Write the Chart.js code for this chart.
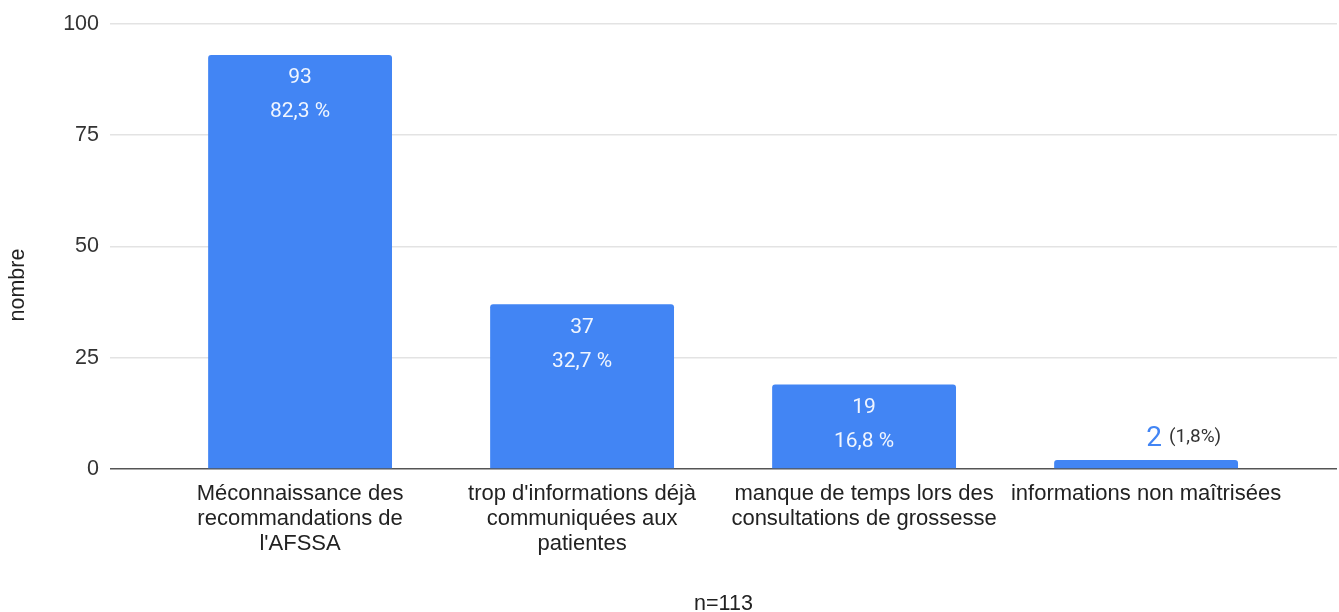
<!DOCTYPE html>
<html>
<head>
<meta charset="utf-8">
<script src="https://cdn.jsdelivr.net/npm/chart.js@4/dist/chart.umd.min.js"></script>
<style>
  html, body { margin: 0; padding: 0; background: #ffffff; }
  #wrap { width: 1339px; height: 612px; position: relative; }
</style>
</head>
<body>
<div id="wrap"><canvas id="c" width="1339" height="612"></canvas></div>
<script>
// ---- data ----
const categories = [
  ['Méconnaissance des', 'recommandations de', "l'AFSSA"],
  ["trop d'informations déjà", 'communiquées aux', 'patientes'],
  ['manque de temps lors des', 'consultations de grossesse'],
  ['informations non maîtrisées']
];
const counts = [93, 37, 19, 2];
const percents = [82.3, 32.7, 16.8, 1.8];
const yTicks = [0, 25, 50, 75, 100];
const yTitle = 'nombre';
const xTitle = 'n=113';

const ARIAL = 'Arial, "Liberation Sans", sans-serif';
const ROBOTO = 'Roboto, "Noto Sans", sans-serif';
const BLUE = '#4285F4';

function fmtPct(v) { return v.toFixed(1).replace('.', ','); }

const barLabels = {
  id: 'barLabels',
  afterDatasetsDraw(chart) {
    const ctx = chart.ctx;
    const meta = chart.getDatasetMeta(0);
    ctx.save();
    meta.data.forEach((bar, i) => {
      const top = bar.y;
      const cx = bar.x;
      if (counts[i] >= 10) {
        ctx.fillStyle = 'rgba(255,255,255,0.92)';
        ctx.textAlign = 'center';
        ctx.textBaseline = 'middle';
        ctx.font = '21px ' + ROBOTO;
        ctx.fillText(String(counts[i]), cx, top + 23);
        ctx.fillText(fmtPct(percents[i]) + ' %', cx, top + 57);
      } else {
        ctx.textBaseline = 'middle';
        ctx.textAlign = 'right';
        ctx.fillStyle = BLUE;
        ctx.font = '28px ' + ROBOTO;
        ctx.fillText(String(counts[i]), cx + 16, top - 21);
        ctx.textAlign = 'left';
        ctx.fillStyle = '#333333';
        ctx.font = '19px ' + ROBOTO;
        ctx.fillText('(' + fmtPct(percents[i]) + '%)', cx + 23, top - 23);
      }
    });
    ctx.restore();
  }
};

const yTitlePlugin = {
  id: 'yTitlePlugin',
  afterDraw(chart) {
    const ctx = chart.ctx;
    ctx.save();
    ctx.translate(18, 285);
    ctx.rotate(-Math.PI / 2);
    ctx.textAlign = 'center';
    ctx.textBaseline = 'middle';
    ctx.fillStyle = '#222222';
    ctx.font = '21.5px ' + ARIAL;
    ctx.fillText(yTitle, 0, 0);
    ctx.restore();
  }
};

new Chart(document.getElementById('c'), {
  type: 'bar',
  data: {
    datasets: [{
      data: counts.map((v, i) => ({ x: i, y: v })),
      backgroundColor: BLUE,
      borderWidth: 0,
      borderRadius: 3,
      categoryPercentage: 1,
      barPercentage: 0.652
    }]
  },
  plugins: [barLabels, yTitlePlugin],
  options: {
    responsive: false,
    animation: false,
    devicePixelRatio: 1,
    layout: { padding: { top: 23, right: 2, left: 0, bottom: 0 } },
    plugins: { legend: { display: false }, tooltip: { enabled: false } },
    scales: {
      x: {
        type: 'linear',
        bounds: 'data',
        offset: false,
        min: -0.674,
        max: 3.677,
        grid: { display: false, drawTicks: false },
        border: { display: false },
        afterBuildTicks: (scale) => { scale.ticks = categories.map((c, i) => ({ value: i })); },
        afterFit: (scale) => { scale.height = 143; },
        ticks: {
          autoSkip: false,
          maxRotation: 0,
          minRotation: 0,
          padding: 12,
          color: '#222222',
          font: { family: ARIAL, size: 22, lineHeight: 1.14 },
          callback: (v) => (Number.isInteger(v) && categories[v]) ? categories[v] : ''
        },
        title: {
          display: true,
          text: xTitle,
          color: '#222222',
          padding: { top: 0, bottom: 0 },
          font: { family: ARIAL, size: 21.5, lineHeight: 0.7 }
        }
      },
      y: {
        min: 0,
        max: 100,
        afterBuildTicks: (scale) => { scale.ticks = yTicks.map(v => ({ value: v })); },
        afterFit: (scale) => { scale.width = 110; },
        grid: {
          drawTicks: false,
          color: (c) => c.tick && c.tick.value === 0 ? '#555555' : '#e3e3e3',
          lineWidth: 1.5
        },
        border: { display: false },
        ticks: {
          padding: 11,
          color: '#333333',
          font: { family: ARIAL, size: 21.5 }
        }
      }
    }
  }
});
</script>
</body>
</html>
